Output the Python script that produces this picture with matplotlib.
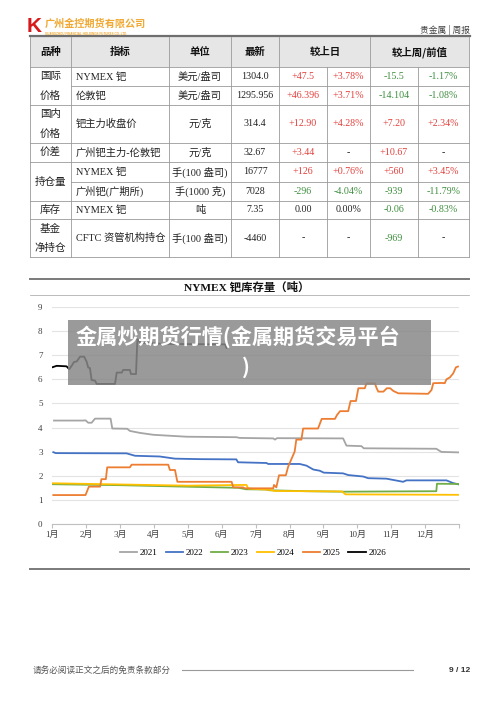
import matplotlib
matplotlib.use('Agg')
import matplotlib.pyplot as plt
from matplotlib.lines import Line2D
from matplotlib.patches import Rectangle

W, H = 500, 706
SERIF = ['Liberation Serif', 'Noto Sans CJK SC']
CN = ['Noto Sans CJK SC', 'DejaVu Sans']

# ---- table data ----
header = ['品种', '指标', '单位', '最新', '较上日', '较上周/前值']
groups = ['国际\n价格', '国内\n价格', '价差', '持仓量', '库存', '基金\n净持仓']
indicators = ['NYMEX 钯', '伦敦钯', '钯主力收盘价', '广州钯主力-伦敦钯',
              'NYMEX 钯', '广州钯(广期所)', 'NYMEX 钯', 'CFTC 资管机构持仓']
units = ['美元/盎司', '美元/盎司', '元/克', '元/克', '手(100 盎司)',
         '手(1000 克)', '吨', '手(100 盎司)']
latest = ['1304.0', '1295.956', '314.4', '32.67', '16777', '7028', '7.35', '-4460']
day_chg = ['+47.5', '+46.396', '+12.90', '+3.44', '+126', '-296', '0.00', '-']
day_pct = ['+3.78%', '+3.71%', '+4.28%', '-', '+0.76%', '-4.04%', '0.00%', '-']
week_chg = ['-15.5', '-14.104', '+7.20', '+10.67', '+560', '-939', '-0.06', '-969']
week_pct = ['-1.17%', '-1.08%', '+2.34%', '-', '+3.45%', '-11.79%', '-0.83%', '-']

# ---- chart data (x = months since Jan 1) ----
months = ['1月', '2月', '3月', '4月', '5月', '6月', '7月', '8月', '9月', '10月', '11月', '12月']
years = ['2021', '2022', '2023', '2024', '2025', '2026']
m21 = [0.05, 0.91, 0.98, 1.06, 1.16, 1.26, 1.72, 1.77, 2.21, 2.29, 2.58, 2.98, 3.47, 3.96,
       5.43, 5.53, 6.52, 6.57, 6.63, 8.58, 8.68, 9.12, 9.19, 11.33, 11.48, 12.0]
v21 = [4.29, 4.29, 4.3, 4.2, 4.2, 4.37, 4.37, 3.96, 3.95, 3.86, 3.78, 3.70, 3.66, 3.62,
       3.6, 3.57, 3.55, 3.5, 3.56, 3.55, 3.25, 3.23, 3.14, 3.12, 2.99, 2.97]
m22 = [0.03, 0.1, 2.19, 2.44, 3.17, 3.62, 4.35, 5.43, 5.48, 6.32, 6.37, 7.3, 7.5, 7.7, 7.89,
       8.01, 8.58, 8.73, 9.17, 9.32, 9.86, 10.05, 10.35, 10.45, 11.63, 11.82, 12.0]
v22 = [2.98, 2.94, 2.93, 2.83, 2.8, 2.71, 2.69, 2.68, 2.56, 2.53, 2.49, 2.49, 2.42, 2.26, 2.21,
       2.13, 2.1, 2.03, 1.97, 1.9, 1.88, 1.83, 1.75, 1.81, 1.81, 1.7, 1.64]
m23 = [0.0, 2.0, 4.2, 5.5, 5.72, 6.3, 6.4, 7.5, 8.6, 11.33, 11.35, 12.0]
v23 = [1.65, 1.61, 1.54, 1.5, 1.44, 1.43, 1.4, 1.36, 1.34, 1.36, 1.67, 1.66]
m24 = [0.0, 2.0, 4.0, 5.6, 5.73, 5.78, 6.4, 6.55, 8.55, 8.65, 12.0]
v24 = [1.69, 1.64, 1.59, 1.62, 1.62, 1.47, 1.42, 1.37, 1.35, 1.23, 1.21]
m25 = [0.03, 0.98, 1.08, 1.41, 1.45, 1.58, 1.62, 2.29, 2.34, 3.42, 3.47, 3.62, 3.69, 5.29,
       5.34, 5.63, 5.68, 6.52, 6.54, 6.61, 6.69, 6.89, 6.96, 7.15, 7.2, 7.35, 7.4, 7.84, 7.95,
       8.34, 8.4, 8.49, 8.73, 8.8, 8.96, 9.03, 9.22, 9.27, 9.52, 9.57, 9.62, 9.77, 9.87, 9.97,
       10.06, 10.21, 11.09, 11.19, 11.24, 11.49, 11.58, 11.63, 11.73, 11.83, 11.91, 11.97]
v25 = [1.2, 1.2, 1.55, 1.55, 1.86, 1.86, 2.35, 2.35, 2.46, 2.46, 2.24, 2.24, 1.75, 1.75,
       1.52, 1.52, 1.48, 1.48, 1.62, 1.52, 2.02, 2.02, 2.38, 3.0, 3.5, 3.5, 3.96, 3.96, 4.36,
       4.36, 4.52, 4.68, 4.68, 5.1, 5.1, 5.63, 5.63, 5.83, 5.83, 5.63, 5.49, 5.49, 5.63, 5.63,
       5.52, 5.42, 5.4, 5.56, 5.84, 5.85, 5.84, 6.0, 6.08, 6.25, 6.5, 6.53]
m26 = [0.0, 0.13, 0.42, 0.5, 0.59, 0.64, 0.72, 0.82, 0.94, 1.01, 1.06, 1.11, 1.16, 1.26,
       1.31, 1.85, 1.9, 2.05, 2.09, 2.29, 2.32, 2.47, 2.51, 2.6, 3.3, 5.1, 5.14, 5.2]
v26 = [6.5, 6.56, 6.54, 6.42, 6.6, 6.72, 6.74, 6.94, 6.94, 6.74, 6.49, 6.47, 5.97, 5.95,
       5.81, 5.81, 6.28, 6.28, 6.39, 6.39, 6.22, 6.22, 7.66, 7.52, 7.47, 7.45, 7.3, 7.35]
series_x = [m21, m22, m23, m24, m25, m26]
series_y = [v21, v22, v23, v24, v25, v26]
colors = ['#A5A5A5', '#4472C4', '#70AD47', '#FFC000', '#ED7D31', '#000000']

fig = plt.figure(figsize=(W / 100, H / 100), dpi=100)


def fx(x):
    return x / W


def fy(y):
    return 1 - y / H


def hline(x0, x1, y, lw=0.6, color='#9a9a9a'):
    fig.add_artist(Line2D([fx(x0), fx(x1)], [fy(y), fy(y)], lw=lw, color=color))


def vline(x, y0, y1, lw=0.6, color='#9a9a9a'):
    fig.add_artist(Line2D([fx(x), fx(x)], [fy(y0), fy(y1)], lw=lw, color=color))


def txt(x, y, s, size=7, family=SERIF, color='#222222', ha='center', weight='normal'):
    fig.text(fx(x), fy(y), s, fontsize=size, family=family, color=color,
             ha=ha, va='center', fontweight=weight)


# ---- page header ----
txt(34, 27, 'K', size=15, family=['Liberation Sans'], color='#D7191C', weight='bold')
txt(45, 24, '广州金控期货有限公司', size=7.3, family=CN, color='#F0A830', ha='left', weight='bold')
txt(45, 33, 'GUANGZHOU FINANCIAL HOLDINGS FUTURES CO.,LTD', size=2.2,
    family=['Liberation Sans'], color='#F0A830', ha='left', weight='bold')
txt(470, 30, '贵金属 | 周报', size=6.3, family=CN, color='#404040', ha='right')

# ---- table ----
cols = [30, 71, 169, 231, 279, 327, 370, 418, 469]
edges = [67, 86, 105, 143, 162, 182, 201, 219, 257]
group_rows = [(0, 2), (2, 3), (3, 4), (4, 6), (6, 7), (7, 8)]

fig.add_artist(Rectangle((fx(30), fy(67)), 439 / W, 30 / H, transform=fig.transFigure,
                         facecolor='#E7E6E6', edgecolor='none'))
hline(30, 470, 36, lw=1.6, color='#6e6e6e')
for i, y in enumerate(edges):
    inside = any(a < i < b for a, b in group_rows)
    hline(71 if inside else 30, 469, y)
for i, x in enumerate(cols):
    vline(x, 67 if i in (5, 7) else 37, 257)

hx = [50.5, 120, 200, 255, 325, 419.5]
for x, s in zip(hx, header):
    txt(x, 52, s, size=7.5, family=CN, color='#111111', weight='bold')

for g, (a, b) in zip(groups, group_rows):
    yc = (edges[a] + edges[b]) / 2
    parts = g.split('\n')
    if len(parts) == 2:
        txt(50.5, yc - 9.5, parts[0], size=7.6, family=CN)
        txt(50.5, yc + 9.5, parts[1], size=7.6, family=CN)
    else:
        txt(50.5, yc, g, size=7.6, family=CN)


def value_color(s):
    if s.startswith('+'):
        return '#E2403C'
    if s.startswith('-') and len(s) > 1:
        return '#3F8F3F'
    return '#222222'


for i in range(len(indicators)):
    yc = (edges[i] + edges[i + 1]) / 2
    txt(76, yc, indicators[i], size=7.4, ha='left')
    txt(200, yc, units[i], size=7.4)
    txt(255, yc, latest[i], size=7.2)
    for x, s in zip([303, 348.5, 394, 443.5], [day_chg[i], day_pct[i], week_chg[i], week_pct[i]]):
        txt(x, yc, s, size=7.2, color=value_color(s))

# ---- chart frame & title ----
hline(30, 469, 279, lw=1.4, color='#7a7a7a')
hline(30, 469, 295, lw=0.5, color='#a0a0a0')
hline(30, 469, 569, lw=1.4, color='#7a7a7a')
txt(247, 287, 'NYMEX 钯库存量（吨）', size=8.2, color='#111111', weight='bold')

ax = fig.add_axes([fx(52.3), fy(524), 406.7 / W, 217 / H])
for x, y, c, lab in zip(series_x, series_y, colors, years):
    ax.plot(x, y, color=c, lw=1.3, label=lab)
ax.set_xlim(0, 12)
ax.set_ylim(0, 9)
ax.set_yticks(range(10))
ax.set_xticks(range(13))
ax.set_xticklabels(months + [''], family=SERIF, fontsize=6.5, color='#404040')
ax.set_yticklabels([str(i) for i in range(10)], family=SERIF, fontsize=6.5, color='#404040')
ax.yaxis.grid(True, color='#E3E3E3', lw=0.8)
ax.set_axisbelow(True)
for s in ['top', 'right', 'left']:
    ax.spines[s].set_visible(False)
ax.spines['bottom'].set_color('#BFBFBF')
ax.tick_params(axis='y', length=0, pad=7)
ax.tick_params(axis='x', length=3, color='#BFBFBF', pad=2)
ax.legend(loc='center', bbox_to_anchor=(fx(253), fy(553)), bbox_transform=fig.transFigure,
          ncol=6, frameon=False, prop={'family': SERIF, 'size': 6.5}, handlelength=1.9,
          handletextpad=0.3, columnspacing=0.9)

# ---- overlay title ----
fig.add_artist(Rectangle((fx(68), fy(385)), 363 / W, 65 / H, transform=fig.transFigure,
                         facecolor='#888888', alpha=0.85, edgecolor='none'))
txt(238, 337, '金属炒期货行情(金属期货交易平台', size=15.2, family=CN, color='white', weight='bold')
txt(246, 367, ')', size=15.2, family=CN, color='white', weight='bold')

# ---- footer ----
txt(33, 670, '请务必阅读正文之后的免责条款部分', size=6.2, family=CN, color='#555555', ha='left')
hline(182, 413, 670, lw=0.8, color='#9a9a9a')
txt(470, 670, '9 / 12', size=6, family=['Liberation Sans'], color='#333333', ha='right', weight='bold')

fig.savefig('out.png', dpi=100)
